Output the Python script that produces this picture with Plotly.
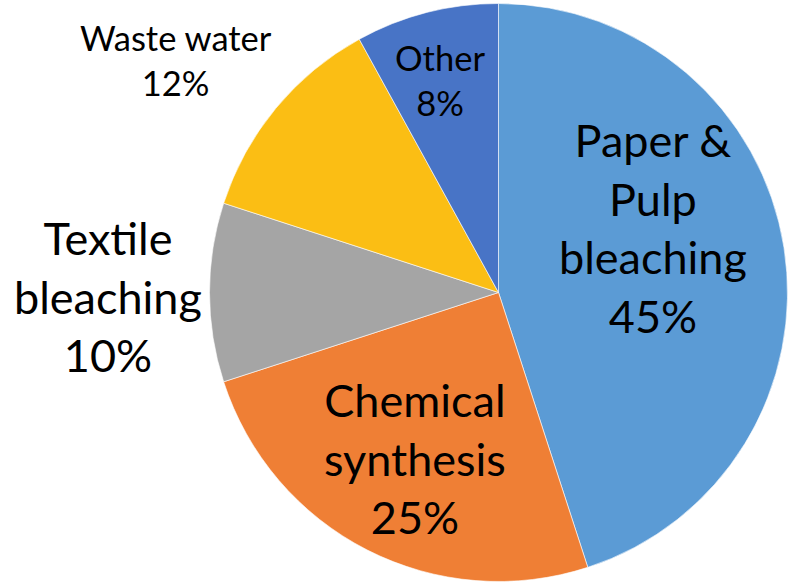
import plotly.graph_objects as go

# Data
categories = ["Paper & Pulp bleaching", "Chemical synthesis", "Textile bleaching", "Waste water", "Other"]
display_labels = ["Paper &<br>Pulp<br>bleaching", "Chemical<br>synthesis", "Tex\u200ctile<br>bleaching", "Waste water", "Other"]
values = [45, 25, 10, 12, 8]
colors = ["#5B9BD5", "#EF7F35", "#A5A5A5", "#FBBE14", "#4874C6"]

W, H = 788, 584
cx, cy, r = 498.5, 292.5, 289

fig = go.Figure()
fig.add_trace(go.Pie(
    labels=categories,
    values=values,
    sort=False,
    direction="clockwise",
    rotation=0,
    textinfo="none",
    hoverinfo="label+percent",
    marker=dict(colors=colors, line=dict(color="white", width=0.6)),
    domain=dict(x=[(cx - r) / W, (cx + r) / W], y=[1 - (cy + r) / H, 1 - (cy - r) / H]),
    showlegend=False,
))

# label placement (page pixel centers) and font sizes
label_pos = [(653, 228), (415, 458), (108, 296), (176, 60), (440, 80)]
label_size = [45, 45, 45, 34.5, 34.5]
font_family = "Lato, Carlito, Calibri, sans-serif"

for name, v, (px, py), fs in zip(display_labels, values, label_pos, label_size):
    fig.add_annotation(
        x=px / W, y=1 - py / H, xref="paper", yref="paper",
        text=f"{name}<br>{v}%", showarrow=False,
        xanchor="center", yanchor="middle",
        font=dict(family=font_family, size=fs, color="black"),
        align="center",
    )

fig.update_layout(
    width=W, height=H,
    margin=dict(l=0, r=0, t=0, b=0),
    paper_bgcolor="white", plot_bgcolor="white",
)

fig.write_html("out.html", config={"displayModeBar": False},
               post_script="document.body.style.margin='0';")
